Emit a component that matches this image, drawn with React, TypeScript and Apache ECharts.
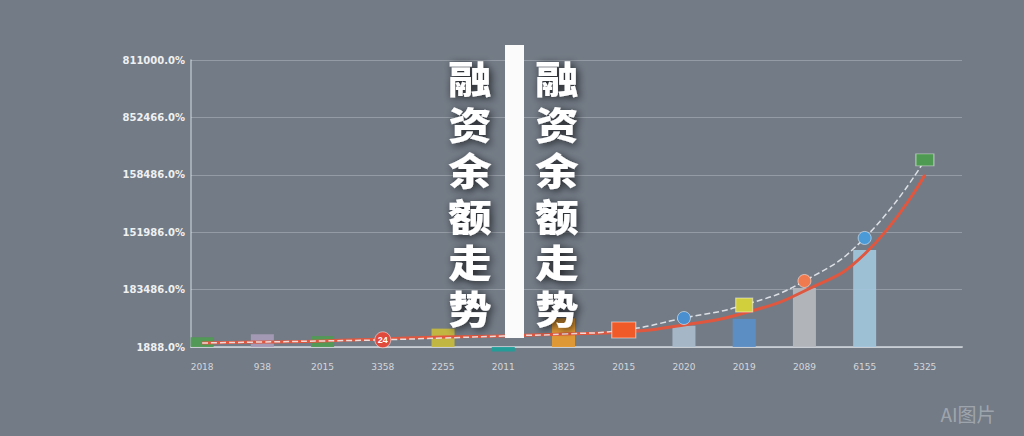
import React, { useEffect, useRef } from "react";
import * as echarts from "echarts";

const categories = ["2018", "938", "2015", "3358", "2255", "2011", "3825", "2015", "2020", "2019", "2089", "6155", "5325"];
const yTickLabels = ["1888.0%", "183486.0%", "151986.0%", "158486.0%", "852466.0%", "811000.0%"];
const barValues = [17000, 22000, 19000, null, 32000, -8000, 50000, null, 37000, 49000, 103000, 169000, null];
const barColors = ["#4f9a52", "#a89bb9", "#4f9a52", "#e05040", "#c9bb3e", "#1f9e9a", "#e89a30", "#f05a28", "#a9bccd", "#5b8fc9", "#b6babf", "#a2c6dc", "#4f9a52"];
const redLine = [7000, 8700, 10500, 14000, 17400, 19200, 22600, 26100, 38300, 59200, 97600, 162000, 300000];
const dashedLine = [7000, 8700, 10500, 12500, 15700, 19200, 22600, 29600, 50500, 73200, 115000, 190000, 326000];
const titleChars = ["融", "资", "余", "额", "走", "势"];
const watermark = "AI图片";

export default function App() {
  const ref = useRef<HTMLDivElement>(null);
  useEffect(() => {
    const chart = echarts.init(ref.current!, undefined, { renderer: "svg" });
    const markerDefs: any[] = [
      null, null, null,
      { symbol: "circle", size: 16, color: "#e04a3c", label: "24" },
      null, null, null,
      { symbol: "rect", size: [24, 16], color: "#f05a28" },
      { symbol: "circle", size: 13, color: "#4a90d0" },
      { symbol: "rect", size: [17, 14], color: "#d2cf3c" },
      { symbol: "circle", size: 13, color: "#f07a50" },
      { symbol: "circle", size: 13, color: "#4a9ad8" },
      { symbol: "rect", size: [18, 12], color: "#4f9a52" },
    ];
    const dashedData = dashedLine.map((v, i) => {
      const m = markerDefs[i];
      if (!m) return { value: v, symbol: "none" };
      return {
        value: v,
        symbol: m.symbol,
        symbolSize: m.size,
        itemStyle: { color: m.color, borderColor: "rgba(255,255,255,0.5)", borderWidth: 1 },
        label: m.label
          ? { show: true, position: "inside", formatter: m.label, color: "#fff", fontSize: 9, fontWeight: "bold" }
          : { show: false },
      };
    });
    const titleEls: any[] = [];
    [470, 557].forEach((cx) => {
      titleChars.forEach((ch, k) => {
        titleEls.push({
          type: "text",
          x: cx,
          y: 77 + k * 46,
          scaleX: 1.14,
          z: 11,
          style: {
            text: ch,
            fontSize: 38,
            fontWeight: 900,
            fontFamily: "Noto Sans CJK SC",
            fill: "#ffffff",
            textAlign: "center",
            textVerticalAlign: "middle",
            textShadowColor: "rgba(0,0,0,0.75)",
            textShadowBlur: 8,
            textShadowOffsetX: 2,
            textShadowOffsetY: 2,
          },
        });
      });
    });
    chart.setOption({
      animation: false,
      backgroundColor: "#737b86",
      grid: [
        { left: 191, right: 62, top: 60, bottom: 89 },
        { left: 172, right: 69, top: 60, bottom: 89 },
      ],
      xAxis: [
        {
          type: "category",
          gridIndex: 0,
          data: categories,
          axisLabel: { show: false },
          axisTick: { show: false },
          axisLine: { show: true, lineStyle: { color: "rgba(235,240,245,0.6)", width: 2 } },
          splitLine: { show: false },
        },
        {
          type: "category",
          gridIndex: 1,
          data: categories,
          boundaryGap: true,
          axisLine: { show: false },
          axisTick: { show: false },
          axisLabel: { color: "#d3d7dc", fontSize: 9, margin: 15, fontFamily: "DejaVu Sans", interval: 0 },
        },
      ],
      yAxis: [
        {
          type: "value",
          gridIndex: 0,
          min: 0,
          max: 500000,
          interval: 100000,
          axisLine: { show: true, lineStyle: { color: "rgba(235,240,245,0.55)", width: 1.5 } },
          axisTick: { show: false },
          splitLine: { show: true, lineStyle: { color: "rgba(235,240,245,0.28)", width: 1 } },
          axisLabel: {
            color: "#eef0f2",
            fontSize: 10,
            fontWeight: "bold",
            fontFamily: "DejaVu Sans",
            margin: 6,
            formatter: (v: number) => yTickLabels[Math.round(v / 100000)] ?? "",
          },
        },
        {
          type: "value",
          gridIndex: 1,
          min: 0,
          max: 500000,
          interval: 100000,
          show: false,
          splitLine: { show: false },
        },
      ],
      series: [
        {
          type: "bar",
          xAxisIndex: 1,
          yAxisIndex: 1,
          clip: false,
          barWidth: 23,
          data: barValues.map((v, i) => ({ value: v, itemStyle: { color: barColors[i], opacity: 0.92 } })),
          z: 2,
        },
        {
          type: "line",
          xAxisIndex: 1,
          yAxisIndex: 1,
          smooth: true,
          data: redLine,
          symbol: "none",
          lineStyle: { color: "#e0573f", width: 3 },
          z: 3,
        },
        {
          type: "line",
          xAxisIndex: 1,
          yAxisIndex: 1,
          smooth: true,
          data: dashedData,
          lineStyle: { color: "rgba(238,242,246,0.85)", width: 1.5, type: "dashed" },
          z: 4,
        },
      ],
      graphic: [
        { type: "rect", shape: { x: 505, y: 45, width: 19, height: 293 }, style: { fill: "#fbfbfb" }, z: 10 },
        ...titleEls,
        {
          type: "text",
          x: 968,
          y: 413,
          style: {
            text: watermark,
            fontSize: 19,
            fill: "rgba(230,233,236,0.4)",
            fontFamily: "Noto Sans CJK SC",
            textAlign: "center",
            textVerticalAlign: "middle",
          },
          z: 11,
        },
      ],
    });
    return () => chart.dispose();
  }, []);
  return <div ref={ref} style={{ width: 1024, height: 436, position: "absolute", left: 0, top: 0 }} />;
}
